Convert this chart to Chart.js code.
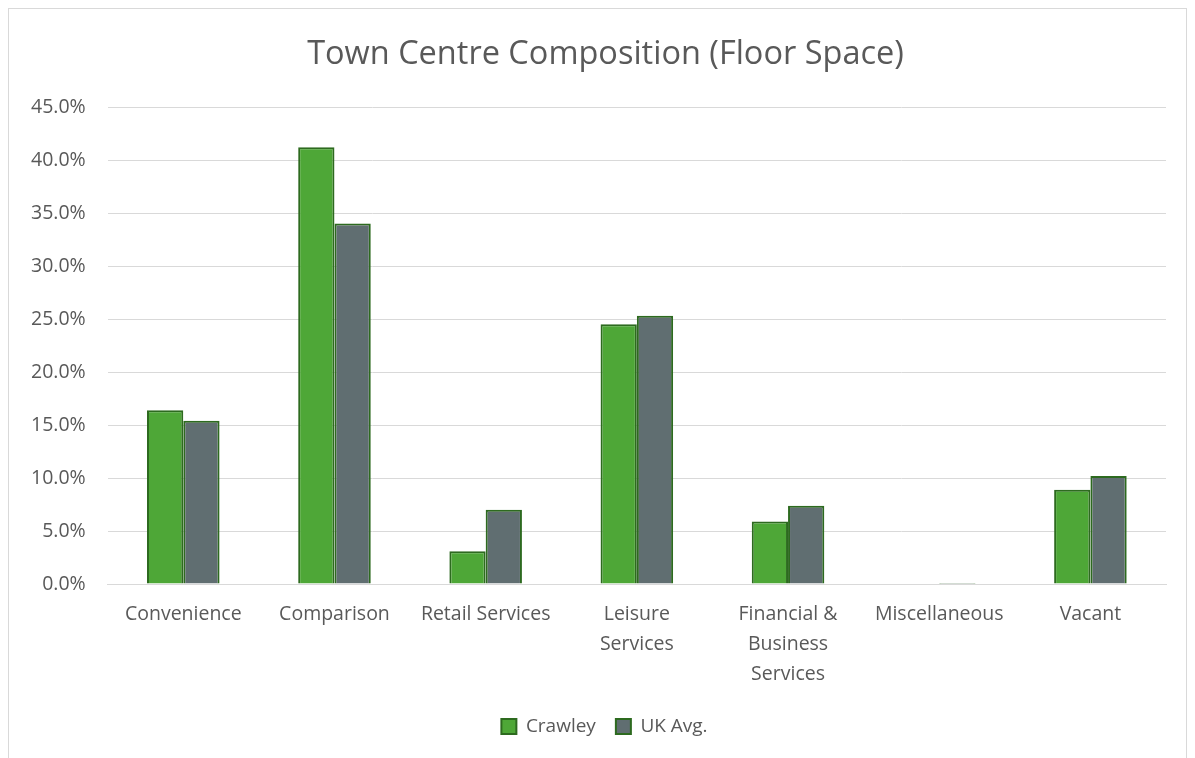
<!DOCTYPE html>
<html lang="en">
<head>
  <meta charset="UTF-8">
  <title>Town Centre Composition (Floor Space)</title>
  <script src="https://cdn.jsdelivr.net/npm/chart.js"></script>
  <style>
    body { margin: 0; background: #fff; }
    #box {
      position: absolute; left: 8px; top: 8px;
      width: 1179px; height: 760px;
      border: 1px solid #d9d9d9; box-sizing: border-box;
    }
  </style>
</head>
<body>
  <div id="box"><canvas id="myChart"></canvas></div>
  <script>
    // Chart data
    var categories = [
      'Convenience', 'Comparison', 'Retail Services', ['Leisure', 'Services'],
      ['Financial &', 'Business', 'Services'], 'Miscellaneous', 'Vacant'
    ];
    var crawley = [16.4, 41.2, 3.1, 24.5, 5.9, 0.0, 8.9];
    var ukAvg = [15.4, 34.0, 7.0, 25.3, 7.4, 0.1, 10.2];

    var textColor = '#595959';
    var fontFamily = "'Open Sans', 'Liberation Sans', sans-serif";

    // nudge title and legend a bit right, like the Excel original
    var centreShift = {
      id: 'centreShift',
      afterLayout: function (chart) {
        if (chart.titleBlock) chart.titleBlock.left += 36;
        if (chart.legend) chart.legend.left += 34;
      }
    };

    var ctx = document.getElementById('myChart').getContext('2d');
    var myChart = new Chart(ctx, {
      type: 'bar',
      data: {
        labels: categories,
        datasets: [{
          label: 'Crawley',
          data: crawley,
          backgroundColor: '#4ea737',
          borderColor: '#2d6a1f',
          borderWidth: 2
        }, {
          label: 'UK Avg.',
          data: ukAvg,
          backgroundColor: '#606e71',
          borderColor: '#2d6a1f',
          borderWidth: 2
        }]
      },
      options: {
        responsive: true,
        maintainAspectRatio: false,
        animation: false,
        categoryPercentage: 0.48,
        barPercentage: 1.0,
        layout: { padding: { left: 0, right: 20, top: 10, bottom: 21 } },
        plugins: {
          title: {
            display: true,
            text: 'Town Centre Composition (Floor Space)',
            color: textColor,
            font: { family: fontFamily, size: 32.5, weight: 'normal' },
            padding: { top: 16, bottom: 33 }
          },
          legend: {
            position: 'bottom',
            labels: {
              color: textColor,
              font: { family: fontFamily, size: 19 },
              boxWidth: 15,
              boxHeight: 15,
              padding: 20
            }
          },
          tooltip: { enabled: false }
        },
        scales: {
          x: {
            grid: { display: false },
            border: { color: '#d9d9d9' },
            ticks: {
              color: textColor,
              font: { family: fontFamily, size: 19.5, lineHeight: 1.52 },
              maxRotation: 0,
              autoSkip: false,
              padding: 8
            }
          },
          y: {
            min: 0,
            max: 45,
            ticks: {
              stepSize: 5,
              color: textColor,
              font: { family: fontFamily, size: 19.5 },
              padding: 22,
              callback: function (v) { return v.toFixed(1) + '%'; }
            },
            grid: { color: '#d9d9d9', drawTicks: false },
            border: { display: false }
          }
        }
      },
      plugins: [centreShift]
    });
  </script>
</body>
</html>
